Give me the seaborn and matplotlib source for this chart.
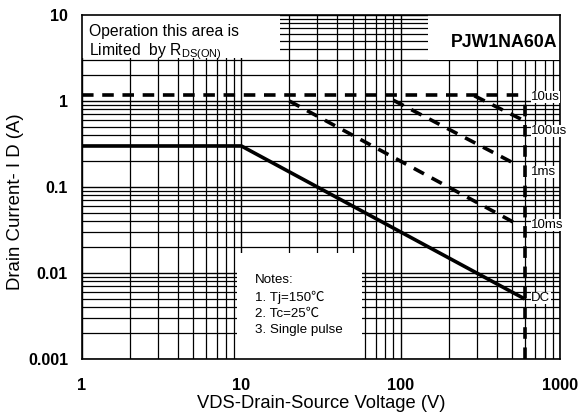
import numpy as np
import pandas as pd
import matplotlib
matplotlib.use("Agg")
import matplotlib.pyplot as plt
from matplotlib.patches import Rectangle
from matplotlib.ticker import LogLocator, FixedLocator, FixedFormatter, NullFormatter
import seaborn as sns

# ---- data ----
v_10us = [1, 600]
i_10us = [1.17, 1.17]
v_100us = [290, 585]
i_100us = [1.15, 0.60]
v_1ms = [90, 510]
i_1ms = [1.02, 0.19]
v_10ms = [20, 510]
i_10ms = [1.0, 0.039]
v_dc = [1, 10, 600]
i_dc = [0.3, 0.3, 0.005]
v_limit = [600, 600]
i_limit = [0.001, 1.05]

curve_labels = ["10us", "100us", "1ms", "10ms", "DC"]
label_y = [1.12, 0.45, 0.15, 0.036, 0.0051]

x_ticks = [1, 10, 100, 1000]
x_ticklabels = ["1", "10", "100", "1000"]
y_ticks = [0.001, 0.01, 0.1, 1, 10]
y_ticklabels = ["0.001", "0.01", "0.1", "1", "10"]

sns.set_style("white")
plt.rcParams['font.family'] = ['Liberation Sans', 'DejaVu Sans']
plt.rcParams['text.color'] = 'black'
plt.rcParams['axes.labelcolor'] = 'black'
plt.rcParams['xtick.color'] = 'black'
plt.rcParams['ytick.color'] = 'black'

fig = plt.figure(figsize=(5.84, 4.18), dpi=100)
ax = fig.add_axes([82/584, 1-359/418, (560-82)/584, (359-15)/418])
ax.set_xscale("log")
ax.set_yscale("log")
ax.set_xlim(1, 1000)
ax.set_ylim(0.001, 10)

ax.xaxis.set_major_locator(FixedLocator(x_ticks))
ax.xaxis.set_major_formatter(FixedFormatter(x_ticklabels))
ax.yaxis.set_major_locator(FixedLocator(y_ticks))
ax.yaxis.set_major_formatter(FixedFormatter(y_ticklabels))
ax.xaxis.set_minor_locator(LogLocator(base=10, subs=np.arange(2, 10)))
ax.yaxis.set_minor_locator(LogLocator(base=10, subs=np.arange(2, 10)))
ax.xaxis.set_minor_formatter(NullFormatter())
ax.yaxis.set_minor_formatter(NullFormatter())

ax.grid(True, which="major", color="black", linewidth=1.0, zorder=0)
ax.grid(True, which="minor", color="black", linewidth=0.9, zorder=0)
ax.set_axisbelow(True)
ax.tick_params(which="both", length=0)
ax.tick_params(axis="x", pad=14, labelsize=11.8, labelcolor="black")
ax.tick_params(axis="y", pad=10, labelsize=11.5, labelcolor="black")
for lab in ax.get_xticklabels() + ax.get_yticklabels():
    lab.set_fontweight("bold")
for s in ax.spines.values():
    s.set_color("black")
    s.set_linewidth(1.2)

# white annotation areas
for (x0, y0, x1, y1) in [(1, 3.2, 17.6, 10), (148, 3.0, 1000, 10), (9.4, 0.001, 57.6, 0.017)]:
    ax.add_patch(Rectangle((x0, y0), x1 - x0, y1 - y0, facecolor="white",
                           edgecolor="none", zorder=1.5))

dash = (3.2, 2.4)
series = [
    (v_10us, i_10us, True),
    (v_100us, i_100us, True),
    (v_1ms, i_1ms, True),
    (v_10ms, i_10ms, True),
    (v_limit, i_limit, True),
    (v_dc, i_dc, False),
]
for v, i, dashed in series:
    df = pd.DataFrame({"V": v, "I": i})
    sns.lineplot(data=df, x="V", y="I", ax=ax, color="black", linewidth=2.6,
                 sort=False, estimator=None, zorder=3,
                 dashes=False)
    line = ax.lines[-1]
    if dashed:
        line.set_dashes(dash)
    line.set_solid_capstyle("butt")
    line.set_dash_capstyle("butt")

for lab, y in zip(curve_labels, label_y):
    ax.text(660, y, lab, fontsize=9.5, ha="left", va="center", zorder=4,
            color="black",
            bbox=dict(facecolor="white", edgecolor="none", pad=0.2))

ax.text(1.1, 4.75, "Operation this area is\nLimited  by R$_{\\mathregular{DS(ON)}}$",
        fontsize=11.3, ha="left", va="center", zorder=4, linespacing=1.15,
        color="black")
ax.text(960, 4.85, "PJW1NA60A", fontsize=12.8, fontweight="bold",
        ha="right", va="center", zorder=4, color="black")
ax.text(12.2, 0.0042, "Notes:\n1. Tj=150\u2103\n2. Tc=25\u2103\n3. Single pulse",
        fontsize=9.6, ha="left", va="center", zorder=4, linespacing=1.45,
        color="black",
        family=['Liberation Sans', 'Noto Sans CJK SC', 'DejaVu Sans'])

ax.set_xlabel("VDS-Drain-Source Voltage (V)", fontsize=13.2, labelpad=1,
              color="black")
ax.set_ylabel("Drain Current- I D (A)", fontsize=13.4, color="black")
ax.yaxis.set_label_coords(-0.140, 0.456)
ax.yaxis.label.set_va("center")

fig.savefig("out.png", dpi=100)
